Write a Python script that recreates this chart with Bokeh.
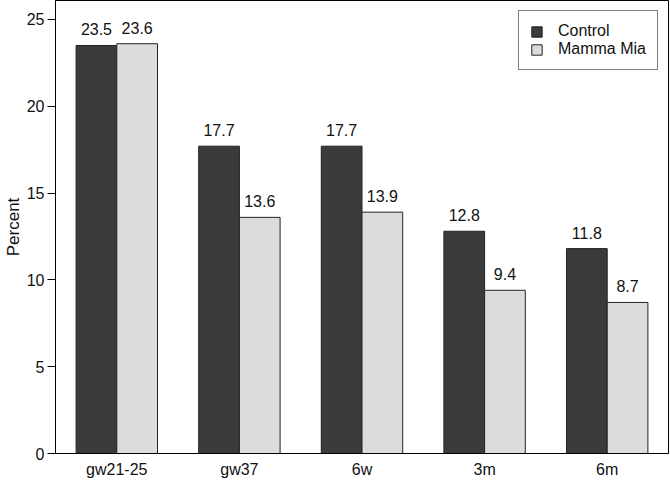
from bokeh.plotting import figure
from bokeh.models import ColumnDataSource, FactorRange, Range1d, FixedTicker, Legend, LegendItem, LabelSet
from bokeh.transform import dodge
from bokeh.core.properties import value
from bokeh.embed import file_html
from bokeh.resources import INLINE

categories = ["gw21-25", "gw37", "6w", "3m", "6m"]
control = [23.5, 17.7, 17.7, 12.8, 11.8]
mamma_mia = [23.6, 13.6, 13.9, 9.4, 8.7]
y_ticks = [0, 5, 10, 15, 20, 25]

FONT = "Liberation Sans"

src = ColumnDataSource(dict(
    cat=categories,
    control=control,
    mamma=mamma_mia,
    control_lbl=[f"{v:.1f}" for v in control],
    mamma_lbl=[f"{v:.1f}" for v in mamma_mia],
))

p = figure(
    width=670, height=480,
    x_range=FactorRange(*categories, range_padding=0),
    y_range=Range1d(0, 26.09),
    output_backend="svg", toolbar_location=None,
    min_border_left=54, min_border_right=2, min_border_top=0, min_border_bottom=26,
)
p.background_fill_color = "white"
p.border_fill_color = "white"
p.outline_line_color = "black"
p.outline_line_width = 1
p.grid.visible = False

off = 0.166
bw = 0.332
r1 = p.vbar(x=dodge("cat", -off, range=p.x_range), top="control", width=bw, source=src,
            fill_color="#3b3b3b", line_color="#222222", line_width=1)
r2 = p.vbar(x=dodge("cat", off, range=p.x_range), top="mamma", width=bw, source=src,
            fill_color="#dcdcdc", line_color="#222222", line_width=1)

for col, lbl, sgn in (("control", "control_lbl", -1), ("mamma", "mamma_lbl", 1)):
    ls = LabelSet(x=dodge("cat", sgn * off, range=p.x_range), y=col, text=lbl, source=src,
                  text_align="center", text_baseline="alphabetic", y_offset=10,
                  text_font=value(FONT), text_font_size=value("16px"), text_color="#111111")
    p.add_layout(ls)

# axes
p.xaxis.major_tick_line_color = None
p.xaxis.major_tick_out = 0
p.xaxis.major_tick_in = 0
p.xaxis.minor_tick_line_color = None
p.xaxis.major_label_standoff = 7
p.xaxis.major_label_text_font = FONT
p.xaxis.major_label_text_font_size = "16px"
p.xaxis.major_label_text_color = "#111111"
p.xaxis.axis_line_color = "black"

p.yaxis.ticker = FixedTicker(ticks=y_ticks)
p.yaxis.minor_tick_line_color = None
p.yaxis.major_tick_out = 8
p.yaxis.major_tick_in = 0
p.yaxis.major_tick_line_color = "black"
p.yaxis.major_label_standoff = 3
p.yaxis.major_label_text_font = FONT
p.yaxis.major_label_text_font_size = "16px"
p.yaxis.major_label_text_color = "#111111"
p.yaxis.axis_label = "Percent"
p.yaxis.axis_label_text_font = FONT
p.yaxis.axis_label_text_font_size = "17px"
p.yaxis.axis_label_text_font_style = "normal"
p.yaxis.axis_label_text_color = "#111111"
p.yaxis.axis_label_standoff = 1
p.yaxis.axis_line_color = "black"

legend = Legend(items=[LegendItem(label="Control", renderers=[r1]),
                       LegendItem(label="Mamma Mia", renderers=[r2])],
                location="top_right", margin=10, padding=11, spacing=0,
                glyph_width=13, glyph_height=13, label_height=18, label_standoff=15,
                label_text_font=FONT, label_text_font_size="16px", label_text_color="#111111",
                border_line_color="black", border_line_width=1, background_fill_alpha=1)
p.add_layout(legend)

open("out.html", "w").write(file_html(p, INLINE))
